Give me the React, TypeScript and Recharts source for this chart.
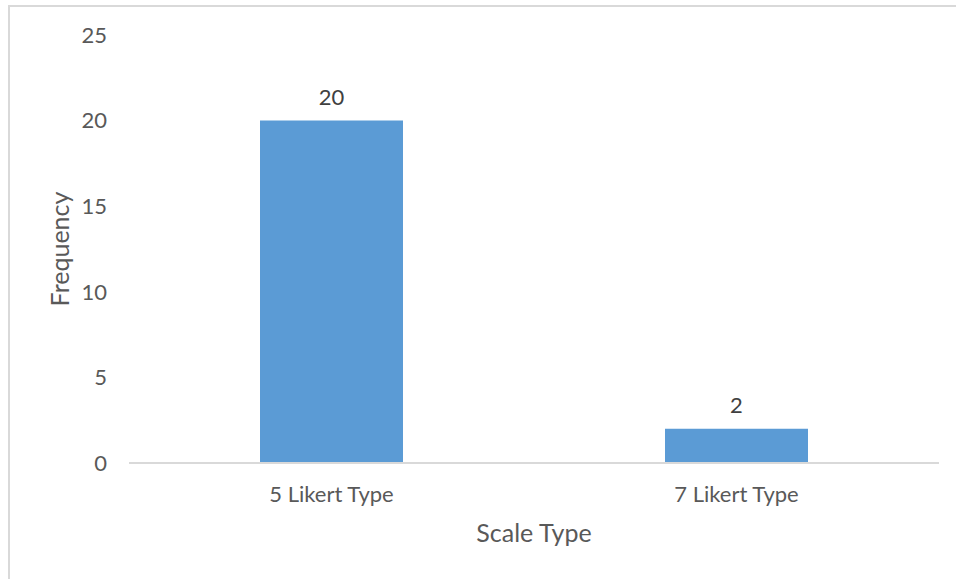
import React from 'react';
import { BarChart, Bar, XAxis, YAxis, LabelList } from 'recharts';

const categories = ['5 Likert Type', '7 Likert Type'];
const frequencies = [20, 2];
const yTicks = [0, 5, 10, 15, 20, 25];

const data = categories.map((name, i) => ({ name, value: frequencies[i] }));

const textColor = '#595959';
const font = 'Lato, "Open Sans", sans-serif';

const App: React.FC = () => {
  return (
    <div
      style={{
        position: 'absolute',
        left: 0,
        top: 0,
        width: 956,
        height: 579,
        background: '#fff',
        fontFamily: font,
      }}
    >
      <div
        style={{
          position: 'absolute',
          left: 8,
          top: 5,
          right: 0,
          bottom: 0,
          borderTop: '2px solid #D9D9D9',
          borderLeft: '2px solid #D9D9D9',
        }}
      />
      <BarChart
        width={956}
        height={579}
        data={data}
        margin={{ top: 35, right: 17, left: 0, bottom: 0 }}
        style={{ position: 'absolute', left: 0, top: 0 }}
      >
        <XAxis
          dataKey="name"
          height={116}
          axisLine={{ stroke: '#D9D9D9', strokeWidth: 2 }}
          tickLine={false}
          tick={{ fill: textColor, fontSize: 22, fontFamily: font }}
          dy={15}
          label={{
            value: 'Scale Type',
            position: 'center',
            dy: 12,
            fill: textColor,
            fontSize: 25,
            fontFamily: font,
          }}
        />
        <YAxis
          width={129}
          domain={[0, 25]}
          ticks={yTicks}
          axisLine={false}
          tickLine={false}
          tick={{ fill: textColor, fontSize: 22, fontFamily: font }}
          dx={-14}
          label={{
            value: 'Frequency',
            angle: -90,
            position: 'center',
            dx: -4,
            fill: textColor,
            fontSize: 25,
            fontFamily: font,
          }}
        />
        <Bar dataKey="value" fill="#5B9BD5" barSize={143} isAnimationActive={false}>
          <LabelList
            dataKey="value"
            position="top"
            offset={16}
            fill="#404040"
            fontSize={22}
            fontFamily={font}
          />
        </Bar>
      </BarChart>
    </div>
  );
};

export default App;
